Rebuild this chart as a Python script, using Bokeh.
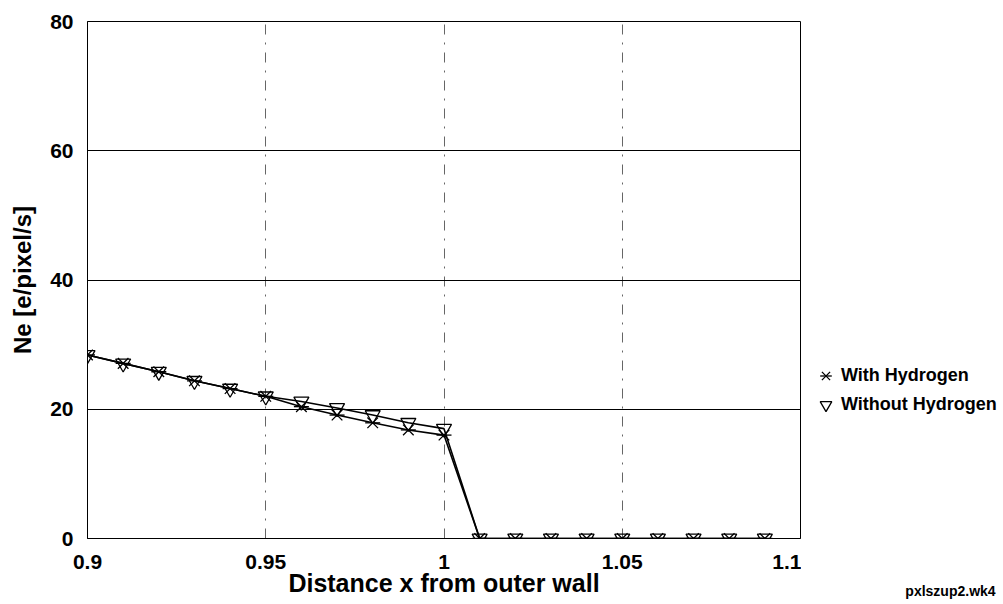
from bokeh.plotting import figure
from bokeh.layouts import row
from bokeh.models import Range1d, FixedTicker, Legend, LegendItem
from bokeh.embed import file_html
from bokeh.resources import INLINE

x_vals = [0.90, 0.91, 0.92, 0.93, 0.94, 0.95, 0.96, 0.97, 0.98, 0.99,
          1.00, 1.01, 1.02, 1.03, 1.04, 1.05, 1.06, 1.07, 1.08, 1.09]
with_h = [28.4, 27.1, 25.8, 24.4, 23.2, 22.0, 20.4, 19.1, 17.9, 16.8,
          16.0, 0, 0, 0, 0, 0, 0, 0, 0, 0]
without_h = [28.4, 27.1, 25.8, 24.4, 23.2, 22.0, 21.2, 20.2, 19.1, 17.9,
             17.0, 0, 0, 0, 0, 0, 0, 0, 0, 0]
x_ticks = [0.9, 0.95, 1.0, 1.05, 1.1]
x_tick_labels = ["0.9", "0.95", "1", "1.05", "1.1"]
y_ticks = [0, 20, 40, 60, 80]
series_names = ["With Hydrogen", "Without Hydrogen"]
footnote = "pxlszup2.wk4"

FONT = "Liberation Sans"

# ---------------- main chart ----------------
p = figure(width=801, height=604, output_backend="svg", toolbar_location=None,
           x_range=Range1d(0.9, 1.1), y_range=Range1d(0, 80),
           min_border_left=87, min_border_right=1, min_border_top=21,
           min_border_bottom=66)
p.background_fill_color = "white"
p.border_fill_color = "white"
p.outline_line_color = "black"
p.outline_line_width = 1

p.xaxis.ticker = FixedTicker(ticks=x_ticks)
p.xaxis.major_label_overrides = {t: l for t, l in zip(x_ticks, x_tick_labels)}
p.yaxis.ticker = FixedTicker(ticks=y_ticks)
for ax in (p.xaxis[0], p.yaxis[0]):
    ax.major_tick_out = 0
    ax.major_tick_in = 0
    ax.minor_tick_out = 0
    ax.minor_tick_in = 0
    ax.axis_line_color = "black"
    ax.major_label_text_font = FONT
    ax.major_label_text_font_style = "bold"
    ax.major_label_text_font_size = "21px"
    ax.major_label_text_color = "black"
    ax.axis_label_text_font = FONT
    ax.axis_label_text_font_style = "bold"
    ax.axis_label_text_color = "black"
p.xaxis.axis_label = "Distance x from outer wall"
p.yaxis.axis_label = "Ne [e/pixel/s]"
p.xaxis.axis_label_text_font_size = "25px"
p.yaxis.axis_label_text_font_size = "24px"
p.xaxis.major_label_standoff = 16
p.xaxis.axis_label_standoff = -3
p.yaxis.major_label_standoff = 14
p.yaxis.axis_label_standoff = 11

p.ygrid.ticker = FixedTicker(ticks=[20, 40, 60])
p.ygrid.grid_line_color = "black"
p.ygrid.grid_line_width = 1
p.xgrid.ticker = FixedTicker(ticks=[0.95, 1.0, 1.05])
p.xgrid.grid_line_color = "#666666"
p.xgrid.grid_line_width = 1
p.xgrid.grid_line_dash = "10 8 2 8"

p.line(x_vals, with_h, line_color="black", line_width=1.6)
p.scatter(x_vals, with_h, marker="x", size=15, line_color="black", line_width=1.3)
p.scatter(x_vals, with_h, marker="dash", size=15, line_color="black", line_width=1.3)
p.line(x_vals, without_h, line_color="black", line_width=1.6)
p.scatter(x_vals, without_h, marker="inverted_triangle", size=15,
          line_color="black", line_width=1.3, fill_color=None)

# ---------------- legend / footnote strip ----------------
q = figure(width=202, height=604, output_backend="svg", toolbar_location=None,
           x_range=Range1d(0, 202), y_range=Range1d(0, 1),
           x_axis_location="below", y_axis_location=None, min_border=0)
q.grid.visible = False
q.outline_line_color = None
q.background_fill_color = "white"
q.border_fill_color = "white"

# footnote drawn as the single tick label of the strip's bottom axis
q.xaxis.ticker = FixedTicker(ticks=[149])
q.xaxis.major_label_overrides = {149: footnote}
q.xaxis.axis_line_color = None
q.xaxis.major_tick_out = 0
q.xaxis.major_tick_in = 0
q.xaxis.minor_tick_out = 0
q.xaxis.minor_tick_in = 0
q.xaxis.major_label_standoff = 44
q.xaxis.major_label_text_font = FONT
q.xaxis.major_label_text_font_style = "bold"
q.xaxis.major_label_text_font_size = "14px"
q.xaxis.major_label_text_color = "black"

ka = q.scatter(x_vals, with_h, marker="x", line_color="black", line_width=1.3, visible=False)
kb = q.scatter(x_vals, with_h, marker="dash", line_color="black", line_width=1.3, visible=False)
kc = q.scatter(x_vals, without_h, marker="inverted_triangle", line_color="black",
               line_width=1.3, fill_color=None, visible=False)

legend = Legend(items=[LegendItem(label=series_names[0], renderers=[ka, kb]),
                       LegendItem(label=series_names[1], renderers=[kc])],
                location=(10, 119),
                label_text_font=FONT, label_text_font_style="bold",
                label_text_font_size="18px", label_text_color="black",
                border_line_color=None, background_fill_alpha=0,
                inactive_fill_alpha=0,
                glyph_width=29, glyph_height=29, label_height=20,
                label_standoff=1, spacing=0, padding=3, margin=0)
q.add_layout(legend)

layout = row(p, q, spacing=0)
open("out.html", "w").write(file_html(layout, INLINE))
